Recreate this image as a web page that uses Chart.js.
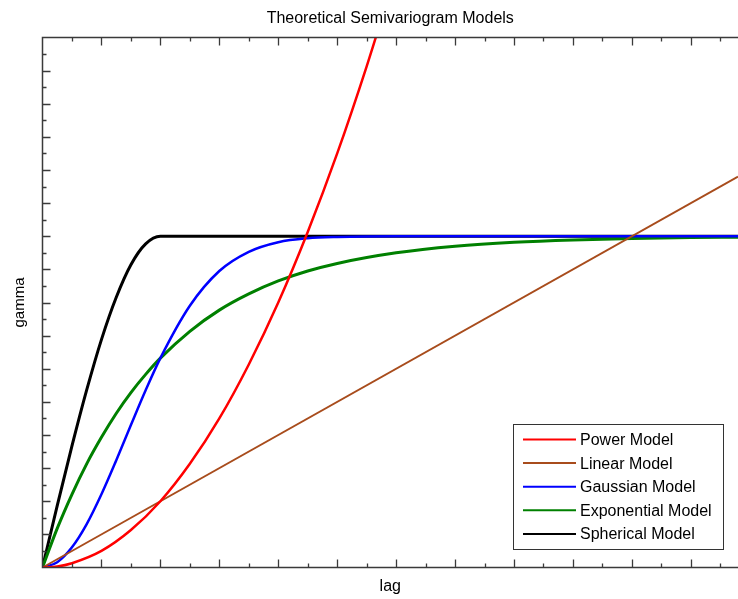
<!DOCTYPE html>
<html>
<head>
<meta charset="utf-8">
<title>Theoretical Semivariogram Models</title>
<script src="https://cdn.jsdelivr.net/npm/chart.js@4/dist/chart.umd.min.js"></script>
<style>
  body { margin: 0; background: #fff; overflow: hidden; }
</style>
</head>
<body>
<canvas id="myChart" width="738" height="599"></canvas>
<script>
// lags the sill models were read at
const lags = [0, 0.25, 0.5, 0.75, 1, 1.25, 1.5, 1.75, 2, 2.5, 3, 3.5, 4, 4.5, 5, 6, 7, 8, 9, 10, 11, 11.8];
const sphericalGamma = [0, 1.87, 3.67, 5.36, 6.88, 8.15, 9.14, 9.77, 10, 10, 10, 10, 10, 10, 10, 10, 10, 10, 10, 10, 10, 10];
const gaussianGamma = [0, 0.16, 0.61, 1.31, 2.21, 3.23, 4.3, 5.35, 6.32, 7.9, 8.95, 9.53, 9.82, 9.94, 9.98, 10, 10, 10, 10, 10, 10, 10];
const exponentialGamma = [0, 1.18, 2.21, 3.13, 3.93, 4.65, 5.28, 5.83, 6.32, 7.13, 7.77, 8.26, 8.65, 8.95, 9.18, 9.5, 9.7, 9.82, 9.89, 9.93, 9.96, 9.97];

// power model runs off the top of the plot
const powerLags = [0, 0.25, 0.5, 1, 1.5, 2, 2.5, 3, 3.5, 4, 4.5, 5, 5.5, 6];
const powerGamma = [0, 0.03, 0.13, 0.5, 1.13, 2, 3.13, 4.5, 6.13, 8, 10.13, 12.5, 15.13, 18];

const linearLags = [0, 11.8];
const linearGamma = [0, 11.8];

const seriesNames = ['Power Model', 'Linear Model', 'Gaussian Model', 'Exponential Model', 'Spherical Model'];

function toPoints(xs, ys) {
    return xs.map((x, i) => ({ x: x, y: ys[i] }));
}

const FONT = 'Liberation Sans, Arial, sans-serif';

// inward ticks on left, top and bottom edges
const axisBox = {
    id: 'axisBox',
    afterDatasetsDraw(chart) {
        const ctx = chart.ctx;
        const a = chart.chartArea;
        const xs = chart.scales.x, ys = chart.scales.y;
        ctx.save();
        ctx.strokeStyle = '#3a3a3a';
        ctx.lineWidth = 1.5;
        ctx.beginPath();
        ctx.moveTo(a.right + 2, a.top);
        ctx.lineTo(a.left, a.top);
        ctx.lineTo(a.left, a.bottom);
        ctx.lineTo(a.right + 2, a.bottom);
        ctx.stroke();

        ctx.lineWidth = 1.3;
        ctx.beginPath();
        for (let v = 0.5; v <= xs.max; v += 0.5) {
            const px = Math.round(xs.getPixelForValue(v)) + 0.5;
            const len = Number.isInteger(v) ? 8 : 4;
            ctx.moveTo(px, a.bottom);
            ctx.lineTo(px, a.bottom - len);
            ctx.moveTo(px, a.top);
            ctx.lineTo(px, a.top + len);
        }
        for (let v = 0.5; v < ys.max; v += 0.5) {
            const py = Math.round(ys.getPixelForValue(v)) + 0.5;
            const len = Number.isInteger(v) ? 8 : 4;
            ctx.moveTo(a.left, py);
            ctx.lineTo(a.left + len, py);
        }
        ctx.stroke();
        ctx.restore();
    }
};

// boxed legend in the lower right corner of the plot
const boxLegend = {
    id: 'boxLegend',
    afterDraw(chart) {
        const ctx = chart.ctx;
        const left = 513.5, top = 424.5, w = 210, h = 125;
        ctx.save();
        ctx.fillStyle = '#fff';
        ctx.fillRect(left, top, w, h);
        ctx.strokeStyle = '#333';
        ctx.lineWidth = 1;
        ctx.strokeRect(left, top, w, h);
        ctx.font = '16px ' + FONT;
        ctx.textBaseline = 'middle';
        chart.data.datasets.forEach((ds, i) => {
            const y = 439.5 + i * 23.6;
            ctx.strokeStyle = ds.borderColor;
            ctx.lineWidth = 2;
            ctx.beginPath();
            ctx.moveTo(523, y);
            ctx.lineTo(576, y);
            ctx.stroke();
            ctx.fillStyle = '#000';
            ctx.fillText(ds.label, 580, y + 1);
        });
        ctx.restore();
    }
};

const ctx = document.getElementById('myChart').getContext('2d');
const myChart = new Chart(ctx, {
    type: 'line',
    data: {
        datasets: [
            { label: seriesNames[0], data: toPoints(powerLags, powerGamma), borderColor: '#ff0000', borderWidth: 2.5 },
            { label: seriesNames[1], data: toPoints(linearLags, linearGamma), borderColor: '#a84c1c', borderWidth: 1.8 },
            { label: seriesNames[2], data: toPoints(lags, gaussianGamma), borderColor: '#0000ff', borderWidth: 2.5 },
            { label: seriesNames[3], data: toPoints(lags, exponentialGamma), borderColor: '#008000', borderWidth: 3 },
            { label: seriesNames[4], data: toPoints(lags, sphericalGamma), borderColor: '#000000', borderWidth: 3 }
        ]
    },
    options: {
        responsive: false,
        animation: false,
        layout: { padding: 0 },
        elements: {
            point: { radius: 0, hoverRadius: 0 },
            line: { cubicInterpolationMode: 'monotone', fill: false }
        },
        plugins: {
            legend: { display: false },
            tooltip: { enabled: false },
            title: {
                display: true,
                text: 'Theoretical Semivariogram Models',
                fullSize: false,
                color: '#000',
                font: { family: FONT, size: 16, weight: 'normal' },
                padding: { top: 9, bottom: 9.3 }
            }
        },
        scales: {
            x: {
                type: 'linear',
                min: 0,
                max: 11.8,
                grid: { display: false },
                border: { display: false },
                ticks: { display: false },
                title: {
                    display: true,
                    text: 'lag',
                    color: '#000',
                    font: { family: FONT, size: 16 },
                    padding: { top: 0, bottom: 3 }
                },
                afterFit(scale) { scale.height = 31.5; }
            },
            y: {
                type: 'linear',
                min: 0,
                max: 16,
                grid: { display: false },
                border: { display: false },
                ticks: { display: false },
                title: {
                    display: true,
                    text: 'gamma',
                    color: '#000',
                    font: { family: FONT, size: 15 },
                    padding: { top: 11, bottom: 0 }
                },
                afterFit(scale) { scale.width = 42.5; }
            }
        }
    },
    plugins: [axisBox, boxLegend]
});
</script>
</body>
</html>
